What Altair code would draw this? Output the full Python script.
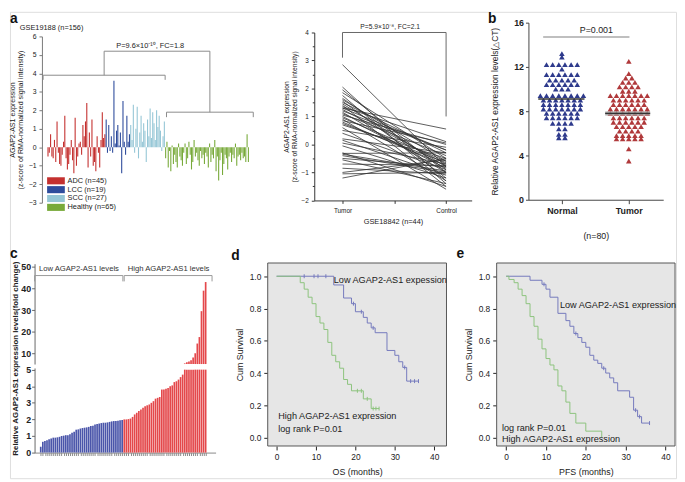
import altair as alt
import pandas as pd
from collections import OrderedDict

FONT = "Liberation Sans"

# ---------------- data ----------------
adc = [-0.5, -0.3, 0.7, -0.5, -0.6, 0.4, -0.8, 1.4, -0.3, -0.9, -1.0, -0.4, 0.3, 1.7, -0.6,
       -1.2, -0.9, -0.4, 0.4, -0.7, -1.4, 1.6, -1.0, -0.5, 0.2, 0.3, -0.4, 1.2, 0.6, 1.4,
       2.4, -1.1, 0.8, -0.5, 1.5, -1.0, -0.8, -1.3, 0.6, -0.3, -1.1, 0.4, 1.9, 0.5, 0.7]
lcc = [1.5, -0.3, 1.2, -0.2, 0.6, -0.3, 3.6, 0.2, 0.9, 1.2, 0.1, 0.8, -1.4, 2.5, 0.3, -0.4, 1.7, 0.3, 0.7]
scc = [1.2, 0.4, 2.3, -0.3, 1.0, 2.2, -0.6, 0.8, 1.7, 0.3, 1.3, 0.9, -0.8, 1.5, 0.6, 2.1, 0.5, 1.9,
       1.3, 0.4, 2.0, 1.1, 1.7, 0.9, -0.2, 0.6, 1.4]
healthy = [-0.6, 0.3, -1.1, -0.2, -1.3, 0.1, -0.9, -0.4, -0.8, -1.1, 0.2, -0.5, -0.7, -1.0, -0.3,
           0.2, -0.9, -0.6, 0.3, -0.4, -1.2, -0.8, 0.4, -0.5, -0.3, -0.7, -1.0, -0.2, -0.6, -0.4,
           -0.9, -0.3, -0.5, -1.1, 0.2, -0.8, -0.4, -0.6, 0.4, -1.3, -0.5, -1.8, -0.7, -0.3, -1.5,
           -0.9, -0.4, -0.6, -1.2, -0.5, -0.3, -0.8, -0.4, -0.6, 0.2, -1.0, -0.5, -0.4, -0.7, -0.3,
           -0.6, -0.5, -0.8, 0.7, -0.8]
a_groups = ["ADC (n=45)", "LCC (n=19)", "SCC (n=27)", "Healthy (n=65)"]
a_colors = ["#c4302f", "#2e4c9c", "#95c6d6", "#78aa3a"]

pair_tumor = [2.85, 2.05, 1.95, 1.85, 1.75, 1.65, 1.6, 1.55, 1.5, 1.45, 1.4, 1.35, 1.3, 1.25, 1.2,
              1.15, 1.1, 1.05, 1.0, 0.95, 0.9, 0.85, 0.8, 0.7, 0.6, 0.5, 0.4, 0.2, 0.15, 0.05,
              -0.05, -0.3, -0.32, -0.35, -0.4, -0.5, -0.55, -0.7, -0.85, -1.0, -1.05, -1.2, 1.3, 0.75]
pair_control = [-0.8, -1.3, -1.0, -0.5, -1.4, -0.9, -0.6, -1.2, -0.3, -0.8, -1.5, 0.1, 0.55, -0.7, -0.2,
                -1.0, -0.4, 0.0, -0.85, -0.6, -1.3, 0.05, -0.75, -0.5, -1.6, -0.1, -0.9, -0.3, -1.1, -0.7,
                -1.2, -1.5, -0.3, -0.95, -1.0, -0.8, -1.4, -0.75, -1.05, -0.55, -1.0, -0.5, -0.2, -0.65]

b_normal = [13.2, 12.9, 12.2, 12.2, 12.2, 12.2, 12.2, 12.2, 11.8,
            11.3, 11.3, 11.3, 11.3, 11.3, 11.3, 10.8, 10.8, 10.8, 10.8, 10.8,
            10.4, 10.4, 10.4, 10.4, 10.4, 10.4, 10.0, 10.0, 10.0,
            9.4, 9.4, 9.4, 9.4, 9.4, 9.4, 9.4, 9.4, 9.0, 9.0, 9.0, 9.0, 9.0, 9.0, 9.0,
            8.6, 8.6, 8.6, 8.6, 8.6, 8.6, 8.6, 8.2, 8.2, 8.2, 8.2, 8.2, 8.2, 8.2,
            7.8, 7.8, 7.8, 7.8, 7.8, 7.8, 7.4, 7.4, 7.4, 7.4, 7.4, 7.4,
            6.9, 6.9, 6.9, 6.9, 6.4, 6.4, 5.9, 5.9, 5.6, 5.6]
b_tumor = [12.5, 11.4, 11.0, 11.0, 10.6, 10.6, 10.6, 10.2, 10.2, 10.2, 10.2, 9.8, 9.8, 9.8,
           9.4, 9.4, 9.4, 9.4, 9.4, 9.4, 9.4, 9.0, 9.0, 9.0, 9.0, 9.0, 9.0,
           8.6, 8.6, 8.6, 8.6, 8.6, 8.6, 8.2, 8.2, 8.2, 8.2, 8.2, 8.2, 8.2,
           7.8, 7.8, 7.8, 7.8, 7.8, 7.8, 7.8, 7.4, 7.4, 7.4, 7.4, 7.4, 7.4,
           7.0, 7.0, 7.0, 7.0, 7.0, 7.0, 6.6, 6.6, 6.6, 6.6, 6.6, 6.2, 6.2, 6.2, 6.2,
           5.8, 5.8, 5.8, 5.8, 5.8, 5.5, 5.5, 5.5, 5.5, 5.5, 4.6, 3.5]
b_mean_normal = 9.1
b_mean_tumor = 7.8

c_low = [0.35, 0.65, 0.7, 0.75, 0.8, 0.85, 0.9, 0.9, 0.92, 0.95, 1.0, 1.02, 1.05, 1.05, 1.1,
         1.2, 1.25, 1.38, 1.4, 1.45, 1.48, 1.5, 1.52, 1.55, 1.6, 1.62, 1.7, 1.72, 1.75, 1.78,
         1.8, 1.8, 1.82, 1.85, 1.88, 1.9, 1.9, 1.92, 1.95, 1.97]
c_high = [2.0, 2.0, 2.02, 2.05, 2.15, 2.3, 2.4, 2.5, 2.6, 2.7, 2.8, 2.85, 2.9, 3.0, 3.1,
          3.25, 3.3, 3.35, 3.8, 3.8, 3.85, 3.9, 4.0, 4.05, 4.25, 4.3, 4.4, 4.55, 4.7,
          5.3, 5.8, 6.2, 6.8, 8.0, 10.0, 14.5, 17.5, 29.5, 39.0, 43.0]

os_low_t = [0, 14.5, 17, 19, 20, 22, 23, 24, 25, 28, 30, 31, 32, 33, 36]
os_low_s = [1.0, 0.946, 0.865, 0.83, 0.78, 0.745, 0.71, 0.68, 0.65, 0.54, 0.51, 0.47, 0.435, 0.35, 0.35]
os_low_ct = [7, 9.5, 10.5, 12.5, 19.5, 21.5, 24.5, 32.5, 34, 35, 36]
os_low_cs = [1.0, 1.0, 1.0, 1.0, 0.83, 0.78, 0.68, 0.435, 0.35, 0.35, 0.35]
os_high_t = [0, 6, 7, 8, 9, 10, 11, 12, 13, 14, 15, 16, 17, 18, 19, 22, 24, 26]
os_high_s = [1.0, 0.96, 0.92, 0.87, 0.83, 0.75, 0.71, 0.67, 0.59, 0.51, 0.47, 0.43, 0.36, 0.33, 0.29, 0.24, 0.18, 0.18]
os_high_ct = [20.5, 21.5, 23, 24.5, 25.2, 26]
os_high_cs = [0.29, 0.29, 0.24, 0.18, 0.18, 0.18]

pfs_low_t = [0, 6, 9, 10, 11, 13, 15, 16, 17, 18, 19, 20, 21, 22, 23, 24, 25, 26, 27, 28, 31, 32, 33, 34, 36]
pfs_low_s = [1.0, 0.975, 0.95, 0.92, 0.87, 0.77, 0.725, 0.69, 0.645, 0.62, 0.59, 0.56, 0.51, 0.48, 0.46,
             0.43, 0.40, 0.37, 0.34, 0.29, 0.25, 0.17, 0.13, 0.09, 0.09]
pfs_low_ct = [9.5, 17.5, 24.5, 32.5, 33.5, 36]
pfs_low_cs = [0.95, 0.645, 0.43, 0.17, 0.13, 0.09]
pfs_high_t = [0, 0.7, 2, 3, 4, 5, 6, 7, 8, 9, 10, 11, 12, 13, 14, 15, 16, 17.5, 20, 24]
pfs_high_s = [1.0, 0.98, 0.96, 0.92, 0.88, 0.83, 0.75, 0.69, 0.61, 0.55, 0.49, 0.45, 0.42, 0.32, 0.29,
              0.22, 0.15, 0.09, 0.04, 0.0]

# ---------------- layout helpers (page pixel -> plot pixel) ----------------
W, H = 677, 474
OX, OY = 8, 8


def PX(v):
    return v - OX


def PY(v):
    return v - OY


def xs(domain, left, right):
    return alt.Scale(domain=domain, range=[PX(left), PX(right)], nice=False, zero=False)


def ys(domain, bottom, top):
    return alt.Scale(domain=domain, range=[PY(bottom), PY(top)], nice=False, zero=False)


def ax(**kw):
    base = dict(labelFont=FONT, titleFont=FONT, grid=False, domainColor="#555", tickColor="#555",
                labelColor="#222", titleColor="#222", titleFontWeight="normal")
    base.update(kw)
    return alt.Axis(**base)


def left_axis(page_x, **kw):
    return ax(orient="left", offset=-PX(page_x), **kw)


def bottom_axis(page_y, **kw):
    return ax(orient="bottom", offset=PY(page_y) - H, **kw)


def letter(t, page_x, page_y):
    return alt.Chart(pd.DataFrame({"t": [t]})).mark_text(
        font=FONT, fontSize=14, fontWeight="bold", align="left", baseline="top", color="#111").encode(
        x=alt.value(PX(page_x)), y=alt.value(PY(page_y)), text="t:N")


layers = []

# ---------------- panel a (left) ----------------
rows = []
for g, vals in zip(a_groups, [adc, lcc, scc, healthy]):
    for v in vals:
        rows.append({"idx": len(rows), "val": v, "grp": g})
df_a = pd.DataFrame(rows)
NA = len(df_a)
n_tum = len(adc) + len(lcc) + len(scc)
lm = (n_tum - 1) / 2
rm = (n_tum + NA - 1) / 2
AL_X = xs([-0.5, NA - 0.5], 41, 256)
AL_Y = ys([-3, 6], 202, 33)

layers.append(alt.Chart(df_a).mark_bar(orient="vertical", size=1.1).encode(
    x=alt.X("idx:Q", scale=AL_X, axis=None),
    y=alt.Y("val:Q", scale=AL_Y,
            axis=left_axis(40.5, values=list(range(-3, 7)), labelFontSize=7, tickSize=3, labelPadding=3,
                           domainColor="#777", tickColor="#777",
                           title=["AGAP2-AS1 expression", "(z-score of RMA-normalized signal intensity)"],
                           titleFontSize=7.2, titlePadding=4, titleLineHeight=8)),
    color=alt.Color("grp:N", scale=alt.Scale(domain=a_groups, range=a_colors),
                    legend=alt.Legend(orient="none", legendX=PX(51), legendY=PY(176), title=None,
                                      symbolType="M-3,-1.2H3V1.2H-3Z", symbolSize=36,
                                      symbolStrokeWidth=0, labelFont=FONT, labelFontSize=7.5,
                                      labelOffset=8, rowPadding=0, labelColor="#222")),
))
seg_a = pd.DataFrame([
    {"x": 0, "x2": n_tum - 1, "y": 3.9, "y2": 3.9},
    {"x": 0, "x2": 0, "y": 3.9, "y2": 3.65},
    {"x": n_tum - 1, "x2": n_tum - 1, "y": 3.9, "y2": 3.65},
    {"x": n_tum, "x2": NA - 1, "y": 1.9, "y2": 1.9},
    {"x": n_tum, "x2": n_tum, "y": 1.9, "y2": 1.63},
    {"x": NA - 1, "x2": NA - 1, "y": 1.9, "y2": 1.63},
    {"x": lm, "x2": lm, "y": 3.9, "y2": 5.2},
    {"x": lm, "x2": rm, "y": 5.2, "y2": 5.2},
    {"x": rm, "x2": rm, "y": 5.2, "y2": 1.9},
])
layers.append(alt.Chart(seg_a).mark_rule(color="#8a8a8a", strokeWidth=1).encode(
    x=alt.X("x:Q", scale=AL_X, axis=None), x2="x2:Q", y=alt.Y("y:Q", scale=AL_Y, axis=None), y2="y2:Q"))
layers.append(alt.Chart(pd.DataFrame([
    {"x": 79, "y": 5.47, "t": "P=9.6×10⁻¹⁰, FC=1.8"},
])).mark_text(font=FONT, fontSize=7.5, color="#222").encode(
    x=alt.X("x:Q", scale=AL_X, axis=None), y=alt.Y("y:Q", scale=AL_Y, axis=None), text="t:N"))
layers.append(alt.Chart(pd.DataFrame([{"x": -17.2, "y": 6.48, "t": "GSE19188 (n=156)"}])).mark_text(
    font=FONT, fontSize=7.5, color="#222", align="left").encode(
    x=alt.X("x:Q", scale=AL_X, axis=None), y=alt.Y("y:Q", scale=AL_Y, axis=None), text="t:N"))
layers.append(letter("a", 8, 8))

# ---------------- panel a (right) ----------------
prow = []
for i, (t, c) in enumerate(zip(pair_tumor, pair_control)):
    prow.append({"id": i, "pos": 0, "val": t})
    prow.append({"id": i, "pos": 1, "val": c})
df_p = pd.DataFrame(prow)
AR_X = xs([-0.2725, 1.247], 317.3, 477.3)
AR_Y = ys([-2, 4], 199.7, 29)
layers.append(alt.Chart(df_p).mark_line(color="#333", strokeWidth=0.8).encode(
    x=alt.X("pos:Q", scale=AR_X,
            axis=bottom_axis(199.7, values=[0, 0.5, 1],
                             labelExpr="datum.value==0?'Tumor':datum.value==1?'Control':''",
                             labelFontSize=6.5, tickSize=3, labelPadding=4, domainColor="#333",
                             tickColor="#333", title="GSE18842 (n=44)", titleFontSize=7.5,
                             titlePadding=4)),
    y=alt.Y("val:Q", scale=AR_Y,
            axis=left_axis(317.3, values=list(range(-2, 5)), labelFontSize=6.5, tickSize=3, labelPadding=3,
                           domainColor="#333", tickColor="#333",
                           title=["AGAP2-AS1 expression", "(z-score of RMA-normalized signal intensity)"],
                           titleFontSize=6.8, titlePadding=4, titleLineHeight=7.5)),
    detail="id:N",
))
layers.append(alt.Chart(df_p).mark_point(opacity=0).encode(
    x=alt.X("pos:Q", scale=AR_X, axis=None),
    y=alt.Y("val:Q", scale=AR_Y,
            axis=left_axis(317.3, values=[-1.5, -0.5, 0.5, 1.5, 2.5, 3.5], labels=False, domain=False,
                           tickSize=2, tickColor="#333", title=None))))
seg_p = pd.DataFrame([
    {"x": 0, "x2": 0, "y": 3.1, "y2": 4.0},
    {"x": 0, "x2": 1, "y": 4.0, "y2": 4.0},
    {"x": 1, "x2": 1, "y": 4.0, "y2": 1.0},
])
layers.append(alt.Chart(seg_p).mark_rule(color="#666", strokeWidth=1).encode(
    x=alt.X("x:Q", scale=AR_X, axis=None), x2="x2:Q", y=alt.Y("y:Q", scale=AR_Y, axis=None), y2="y2:Q"))
layers.append(alt.Chart(pd.DataFrame([{"x": 0.46, "y": 4.21, "t": "P=5.9×10⁻⁸, FC=2.1"}])).mark_text(
    font=FONT, fontSize=6.8, color="#222").encode(
    x=alt.X("x:Q", scale=AR_X, axis=None), y=alt.Y("y:Q", scale=AR_Y, axis=None), text="t:N"))

# ---------------- panel b ----------------
def swarm(vals, center, dx):
    groups = OrderedDict()
    for v in vals:
        groups[v] = groups.get(v, 0) + 1
    out = []
    for v, n in groups.items():
        for k in range(n):
            out.append({"x": center + (k - (n - 1) / 2) * dx, "y": v})
    return pd.DataFrame(out)


B_X = xs([0.5, 2.515], 535, 672)
B_Y = ys([0, 16], 199, 19)
layers.append(alt.Chart(swarm(b_normal, 1, 0.092)).mark_point(
    shape="triangle-up", filled=True, size=32, color="#2e3a8c", opacity=1).encode(
    x=alt.X("x:Q", scale=B_X,
            axis=bottom_axis(199, values=[1, 2], labelExpr="datum.value==1?'Normal':'Tumor'",
                             labelFontSize=9, labelFontWeight="bold", tickSize=4, labelPadding=3,
                             domainColor="#444", tickColor="#444", title="(n=80)", titleFontSize=9,
                             titlePadding=16)),
    y=alt.Y("y:Q", scale=B_Y,
            axis=left_axis(535, values=[0, 4, 8, 12, 16], labelFontSize=9, labelFontWeight="bold",
                           tickSize=3, labelPadding=2, domainColor="#444", tickColor="#444",
                           title="Relative AGAP2-AS1 expression levels(△CT)", titleFontSize=8.5,
                           titlePadding=14))))
layers.append(alt.Chart(swarm(b_tumor, 2, 0.092)).mark_point(
    shape="triangle-up", filled=True, size=32, color="#b0393b", opacity=1).encode(
    x=alt.X("x:Q", scale=B_X, axis=None), y=alt.Y("y:Q", scale=B_Y, axis=None)))
layers.append(alt.Chart(pd.DataFrame([{"x": 1.647, "x2": 2.32, "y": b_mean_tumor}])).mark_rule(
    strokeWidth=4, color="#999", opacity=0.8).encode(
    x=alt.X("x:Q", scale=B_X, axis=None), x2="x2:Q", y=alt.Y("y:Q", scale=B_Y, axis=None)))
seg_b = pd.DataFrame([
    {"x": 0.647, "x2": 1.338, "y": b_mean_normal},
    {"x": 1.647, "x2": 2.32, "y": b_mean_tumor},
])
layers.append(alt.Chart(seg_b).mark_rule(strokeWidth=1.4, color="#333").encode(
    x=alt.X("x:Q", scale=B_X, axis=None), x2="x2:Q", y=alt.Y("y:Q", scale=B_Y, axis=None)))
layers.append(alt.Chart(pd.DataFrame([{"x": 0.72, "x2": 2.01, "y": 14.7}])).mark_rule(
    color="#aaa", strokeWidth=1.5).encode(
    x=alt.X("x:Q", scale=B_X, axis=None), x2="x2:Q", y=alt.Y("y:Q", scale=B_Y, axis=None)))
layers.append(alt.Chart(pd.DataFrame([{"x": 1.515, "y": 15.3, "t": "P=0.001"}])).mark_text(
    font=FONT, fontSize=9, color="#222").encode(
    x=alt.X("x:Q", scale=B_X, axis=None), y=alt.Y("y:Q", scale=B_Y, axis=None), text="t:N"))
layers.append(letter("b", 494, 8))

# ---------------- panel c (broken axis) ----------------
c_all = c_low + c_high
NC = len(c_all)
NL = len(c_low)
df_c = pd.DataFrame({"idx": list(range(NC)), "val": c_all, "grp": ["low"] * NL + ["high"] * len(c_high)})
df_c["low_part"] = df_c["val"].clip(upper=5)
C_X = xs([-0.6, NC + 1.4], 33, 217)
C_YU = ys([5, 51.5], 366, 264)
C_YL = ys([0, 5.1], 456, 370)
C_BLUE, C_RED = "#4a55aa", "#e4484b"

layers.append(alt.Chart(df_c).transform_filter(alt.datum.val > 5).mark_bar(
    orient="vertical", size=1.7, color=C_RED).encode(
    x=alt.X("idx:Q", scale=C_X, axis=None),
    y=alt.Y("val:Q", scale=C_YU,
            axis=left_axis(33, values=[10, 20, 30, 40, 50], labelFontSize=9, labelFontWeight="bold",
                           tickSize=3, labelPadding=1, domainColor="#666", tickColor="#666",
                           title="Relative AGAP2-AS1 expression levels(fold change)", titleFontSize=8,
                           titleFontWeight="bold", titlePadding=1, titleY=PY(360))),
    y2=alt.datum(5)))
layers.append(alt.Chart(df_c).transform_filter(alt.datum.grp == "low").mark_bar(
    orient="vertical", size=1.7, color=C_BLUE).encode(
    x=alt.X("idx:Q", scale=C_X,
            axis=bottom_axis(456, values=list(range(NC)), labels=False, tickSize=3, tickColor="#888",
                             domainColor="#888", title=None)),
    y=alt.Y("low_part:Q", scale=C_YL,
            axis=left_axis(33, values=[0, 1, 2, 3, 4, 5], labelFontSize=9, labelFontWeight="bold",
                           tickSize=3, labelPadding=1, domainColor="#666", tickColor="#666", title=None))))
layers.append(alt.Chart(df_c).transform_filter(alt.datum.grp == "high").mark_bar(
    orient="vertical", size=1.7, color=C_RED).encode(
    x=alt.X("idx:Q", scale=C_X, axis=None), y=alt.Y("low_part:Q", scale=C_YL, axis=None)))
seg_c = pd.DataFrame([
    {"x": -0.6, "x2": NL - 0.6, "y": 46.0, "y2": 46.0},
    {"x": -0.6, "x2": -0.6, "y": 46.0, "y2": 43.3},
    {"x": NL - 0.6, "x2": NL - 0.6, "y": 46.0, "y2": 43.3},
    {"x": NL, "x2": NC - 0.2, "y": 46.0, "y2": 46.0},
    {"x": NL, "x2": NL, "y": 46.0, "y2": 43.3},
    {"x": NC - 0.2, "x2": NC - 0.2, "y": 46.0, "y2": 43.3},
])
layers.append(alt.Chart(seg_c).mark_rule(color="#999", strokeWidth=1).encode(
    x=alt.X("x:Q", scale=C_X, axis=None), x2="x2:Q", y=alt.Y("y:Q", scale=C_YU, axis=None), y2="y2:Q"))
layers.append(alt.Chart(pd.DataFrame([
    {"x": 19.5, "y": 49.2, "t": "Low AGAP2-AS1 levels"},
    {"x": 60.1, "y": 49.2, "t": "High AGAP2-AS1 levels"},
])).mark_text(font=FONT, fontSize=7.8, color="#333").encode(
    x=alt.X("x:Q", scale=C_X, axis=None), y=alt.Y("y:Q", scale=C_YU, axis=None), text="t:N"))
layers.append(letter("c", 8, 247))

# ---------------- panels d, e (Kaplan-Meier) ----------------
K_BLUE, K_GREEN = "#7479bd", "#8cc37c"


def km(lt, ls, lct, lcs, ht, hs, hct, hcs, xdom, frame_l, frame_r, xtitle, labels):
    X = xs(xdom, frame_l, frame_r)
    Y = ys([-0.052, 1.082], 449.3, 263.3)
    out = []
    out.append(alt.Chart(pd.DataFrame([{"x": xdom[0], "x2": xdom[1], "y": -0.052, "y2": 1.082}])).mark_rect(
        fill="#e6e6e6", stroke="#555", strokeWidth=1).encode(
        x=alt.X("x:Q", scale=X,
                axis=bottom_axis(449.3, values=[0, 10, 20, 30, 40], labelFontSize=8.5, tickSize=4,
                                 tickColor="#222", domain=False, labelPadding=3, title=xtitle,
                                 titleFontSize=9, titlePadding=6)),
        x2="x2:Q",
        y=alt.Y("y:Q", scale=Y,
                axis=left_axis(frame_l, values=[0, 0.2, 0.4, 0.6, 0.8, 1.0], format=".1f",
                               labelFontSize=8.5, tickSize=4, tickColor="#222", domain=False,
                               labelPadding=3, title="Cum Survival", titleFontSize=9, titlePadding=5)),
        y2="y2:Q"))
    for t, s, ct, cs, col in [(lt, ls, lct, lcs, K_BLUE), (ht, hs, hct, hcs, K_GREEN)]:
        out.append(alt.Chart(pd.DataFrame({"t": t, "s": s})).mark_line(
            interpolate="step-after", color=col, strokeWidth=1).encode(
            x=alt.X("t:Q", scale=X, axis=None), y=alt.Y("s:Q", scale=Y, axis=None)))
        if ct:
            out.append(alt.Chart(pd.DataFrame({"t": ct, "s": cs})).mark_point(
                shape="M0,-1V1", size=16, color=col, strokeWidth=1, filled=False, opacity=1).encode(
                x=alt.X("t:Q", scale=X, axis=None), y=alt.Y("s:Q", scale=Y, axis=None)))
    out.append(alt.Chart(pd.DataFrame(labels)).mark_text(
        font=FONT, fontSize=9.3, color="#222", align="left").encode(
        x=alt.X("t:Q", scale=X, axis=None), y=alt.Y("s:Q", scale=Y, axis=None), text="txt:N"))
    return out


layers += km(os_low_t, os_low_s, os_low_ct, os_low_cs, os_high_t, os_high_s, os_high_ct, os_high_cs,
             [-2.25, 43.1], 270, 451.7, "OS (months)",
             [{"t": 14.5, "s": 0.977, "txt": "Low AGAP2-AS1 expession"},
              {"t": 0.42, "s": 0.132, "txt": "High AGAP2-AS1 expression"},
              {"t": 0.42, "s": 0.05, "txt": "log rank P=0.01"}])
layers += km(pfs_low_t, pfs_low_s, pfs_low_ct, pfs_low_cs, pfs_high_t, pfs_high_s, [], [],
             [-2.38, 42.4], 502.7, 684, "PFS (months)",
             [{"t": 13.5, "s": 0.82, "txt": "Low AGAP2-AS1 expression"},
              {"t": -1.06, "s": 0.06, "txt": "log rank P=0.01"},
              {"t": -1.06, "s": -0.012, "txt": "High AGAP2-AS1 expression"}])
layers.append(letter("d", 233, 249))
layers.append(letter("e", 462, 247))

chart = alt.layer(*layers).resolve_scale(x="independent", y="independent").properties(
    width=W, height=H, padding=0).configure_view(stroke=None).configure(font=FONT)

chart.save("out.html", embed_options={"renderer": "svg", "actions": False})
